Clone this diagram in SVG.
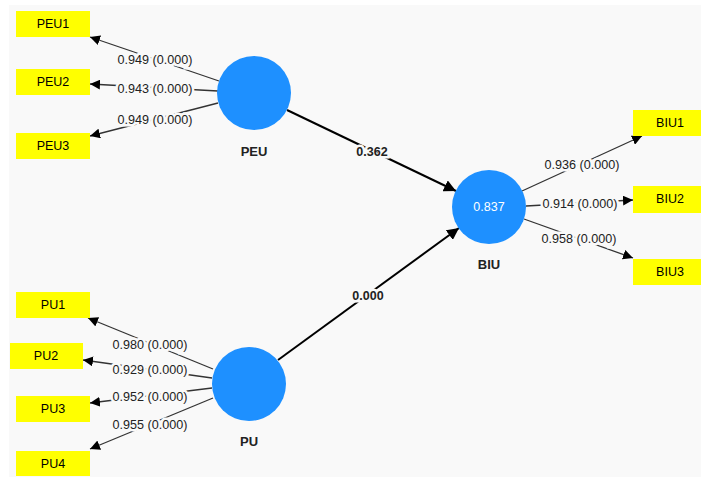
<svg xmlns="http://www.w3.org/2000/svg" width="701" height="477" viewBox="0 0 701 477">
<defs>
<marker id="ah" viewBox="0 0 10 10" refX="10" refY="5" markerWidth="10" markerHeight="10" markerUnits="userSpaceOnUse" orient="auto"><path d="M0,0 L10,5 L0,10 z" fill="#000"/></marker>
<marker id="ahb" viewBox="0 0 10 10" refX="10" refY="5" markerWidth="12" markerHeight="12" markerUnits="userSpaceOnUse" orient="auto"><path d="M0,0 L10,5 L0,10 z" fill="#000"/></marker>
</defs>
<style>
.ind{fill:#ffff00}
.it{font-family:"Liberation Sans",Arial,sans-serif;font-size:12.5px;fill:#000;text-anchor:middle;dominant-baseline:central}
.lv{fill:#1e90ff}
.lt{font-family:"Liberation Sans",Arial,sans-serif;font-size:13px;font-weight:bold;fill:#222;text-anchor:middle;dominant-baseline:central}
.r2{font-family:"Liberation Sans",Arial,sans-serif;font-size:12.5px;fill:#fff;text-anchor:middle;dominant-baseline:central}
.ld{stroke:#333;stroke-width:1.3;fill:none;marker-end:url(#ah)}
.pc{stroke:#000;stroke-width:2;fill:none;marker-end:url(#ahb)}
.el{font-family:"Liberation Sans",Arial,sans-serif;font-size:12.6px;fill:#222;text-anchor:middle;dominant-baseline:central;stroke:#f9f9f9;stroke-width:5;paint-order:stroke}
.elb{font-family:"Liberation Sans",Arial,sans-serif;font-size:12.5px;font-weight:bold;fill:#222;text-anchor:middle;dominant-baseline:central;stroke:#f9f9f9;stroke-width:5;paint-order:stroke}
</style>
<rect x="0" y="0" width="701" height="477" fill="#fff"/>
<rect x="9" y="5" width="692" height="472" fill="#f9f9f9"/>
<g id="connectors">
<line class="ld" x1="219" y1="81" x2="90" y2="37"/>
<text class="el" x="155" y="60">0.949 (0.000)</text>
<line class="ld" x1="218" y1="91" x2="90" y2="84"/>
<text class="el" x="155" y="89">0.943 (0.000)</text>
<line class="ld" x1="218" y1="103" x2="90" y2="136"/>
<text class="el" x="155" y="120">0.949 (0.000)</text>
<line class="ld" x1="213" y1="369" x2="88" y2="318"/>
<text class="el" x="150" y="345">0.980 (0.000)</text>
<line class="ld" x1="212" y1="378" x2="83" y2="360"/>
<text class="el" x="150" y="370">0.929 (0.000)</text>
<line class="ld" x1="212" y1="388" x2="90" y2="403"/>
<text class="el" x="150" y="397">0.952 (0.000)</text>
<line class="ld" x1="213" y1="398" x2="90" y2="449"/>
<text class="el" x="150" y="425">0.955 (0.000)</text>
<line class="ld" x1="522" y1="191" x2="642" y2="136"/>
<text class="el" x="582" y="165">0.936 (0.000)</text>
<line class="ld" x1="526" y1="206" x2="633" y2="200"/>
<text class="el" x="580" y="204">0.914 (0.000)</text>
<line class="ld" x1="524" y1="219" x2="633" y2="258"/>
<text class="el" x="579" y="239">0.958 (0.000)</text>
<line class="pc" x1="287" y1="110" x2="456" y2="191"/>
<text class="elb" x="372" y="152">0.362</text>
<line class="pc" x1="278" y1="360" x2="459" y2="228"/>
<text class="elb" x="368" y="296">0.000</text>
</g>
<g id="PEU"><circle class="lv" cx="254" cy="93" r="37"/><text class="lt" x="254" y="151">PEU</text></g>
<g id="PU"><circle class="lv" cx="249" cy="384" r="37"/><text class="lt" x="249" y="441">PU</text></g>
<g id="BIU"><circle class="lv" cx="489" cy="207" r="37"/><text class="r2" x="489" y="207">0.837</text><text class="lt" x="489" y="264">BIU</text></g>
<g id="PEU1"><rect class="ind" x="16" y="11" width="74" height="26"/><text class="it" x="53" y="24">PEU1</text></g>
<g id="PEU2"><rect class="ind" x="16" y="69" width="74" height="26"/><text class="it" x="53" y="82">PEU2</text></g>
<g id="PEU3"><rect class="ind" x="16" y="133" width="74" height="26"/><text class="it" x="53" y="146">PEU3</text></g>
<g id="PU1"><rect class="ind" x="16" y="292" width="74" height="26"/><text class="it" x="53" y="305">PU1</text></g>
<g id="PU2"><rect class="ind" x="10" y="343" width="73" height="26"/><text class="it" x="46" y="356">PU2</text></g>
<g id="PU3"><rect class="ind" x="16" y="396" width="74" height="26"/><text class="it" x="53" y="409">PU3</text></g>
<g id="PU4"><rect class="ind" x="16" y="451" width="74" height="25"/><text class="it" x="53" y="464">PU4</text></g>
<g id="BIU1"><rect class="ind" x="633" y="110" width="74" height="26"/><text class="it" x="670" y="123">BIU1</text></g>
<g id="BIU2"><rect class="ind" x="633" y="186" width="74" height="27"/><text class="it" x="670" y="199">BIU2</text></g>
<g id="BIU3"><rect class="ind" x="633" y="259" width="74" height="26"/><text class="it" x="670" y="272">BIU3</text></g>
</svg>
